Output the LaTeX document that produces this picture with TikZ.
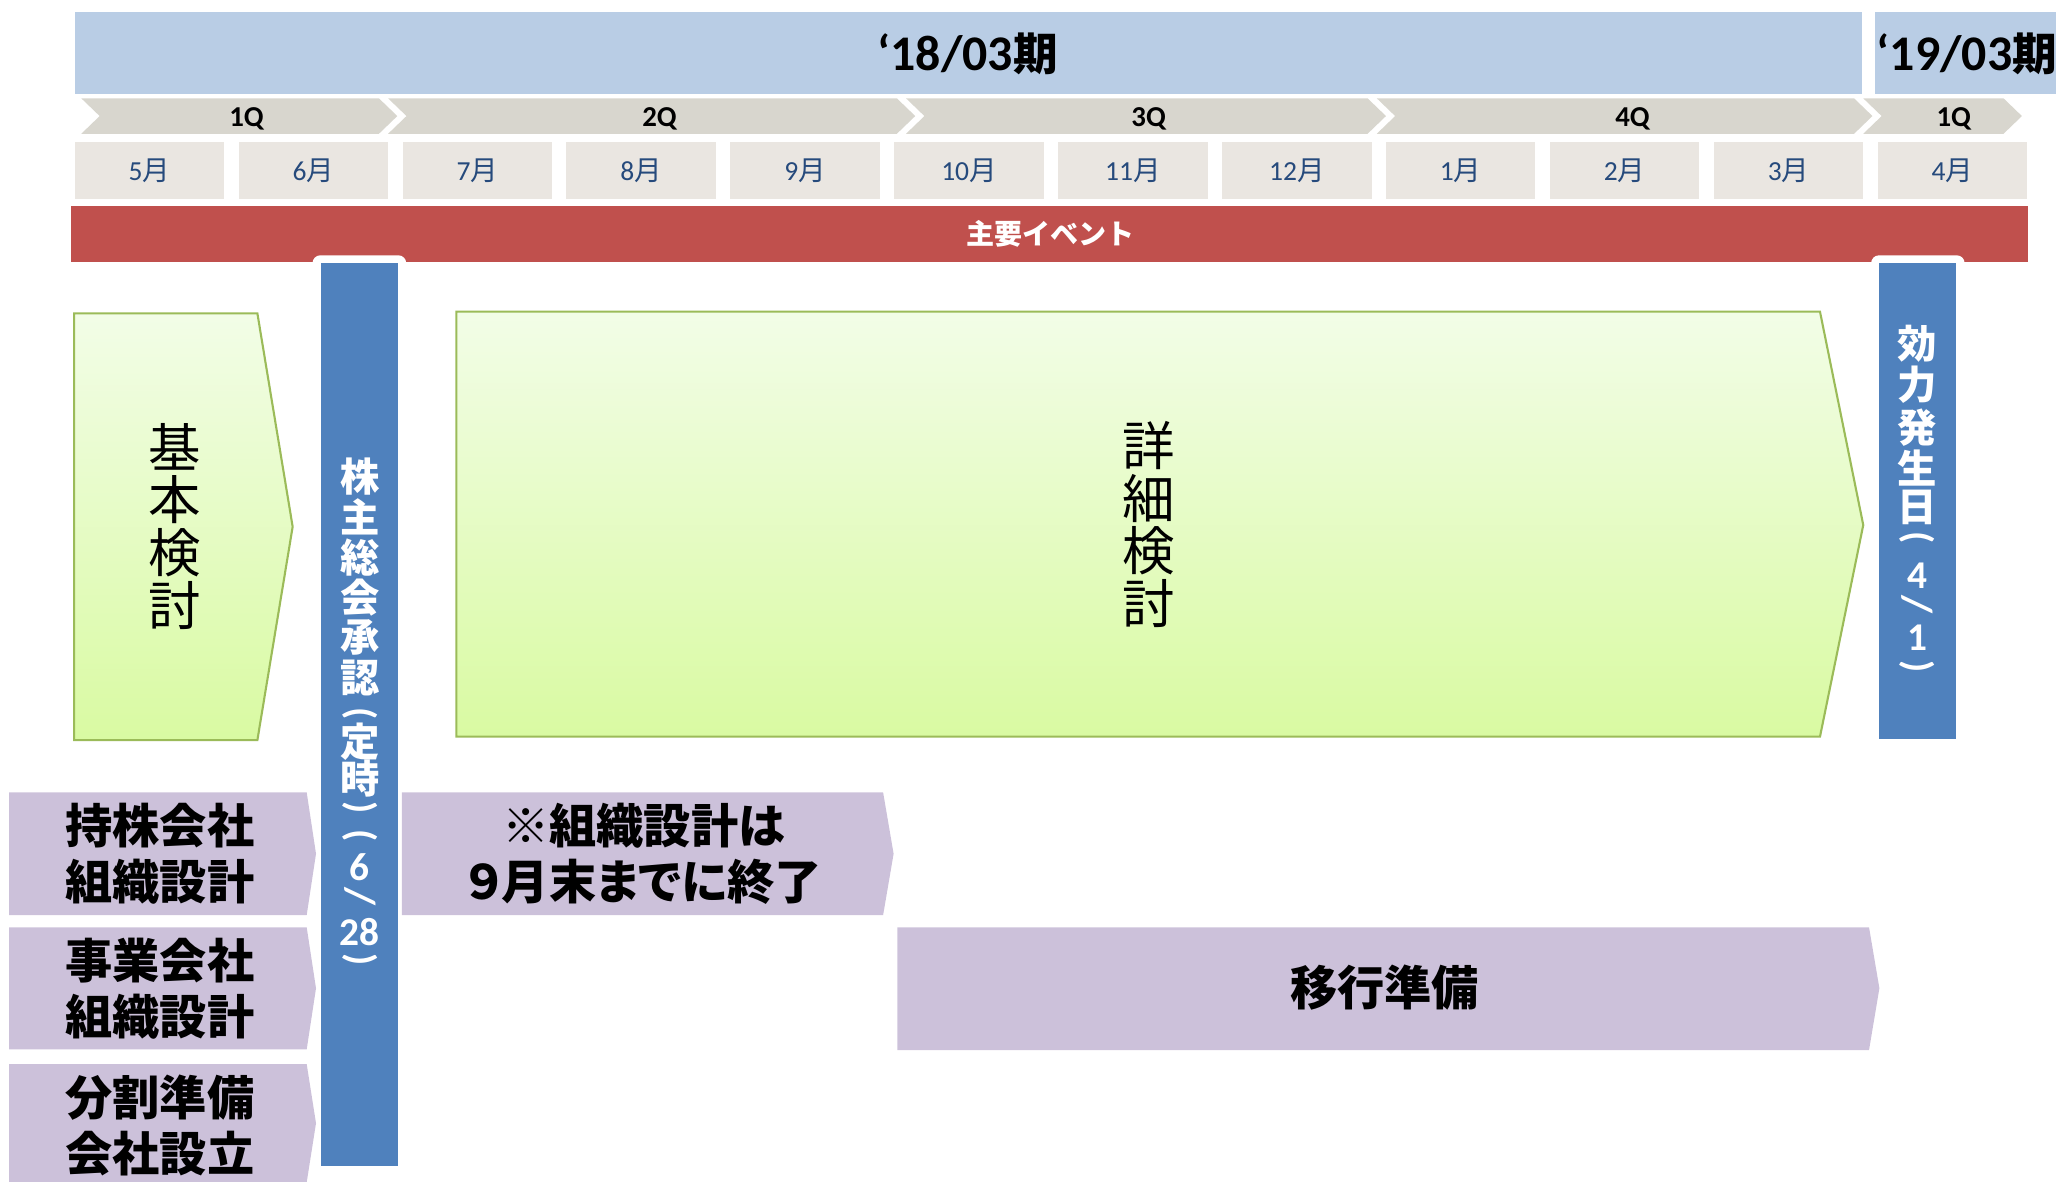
\documentclass[tikz,border=0pt]{standalone}
\usepackage{fontspec}
\setmainfont{Carlito}
\newfontfamily\jp{Noto Sans CJK JP}
\definecolor{bandblue}{RGB}{185,205,229}
\definecolor{chevfill}{RGB}{216,214,206}
\definecolor{monthbg}{RGB}{234,230,225}
\definecolor{monthtx}{RGB}{38,74,124}
\definecolor{evred}{RGB}{192,80,77}
\definecolor{barblue}{RGB}{79,129,189}
\definecolor{gtop}{RGB}{242,253,231}
\definecolor{gbot}{RGB}{217,250,162}
\definecolor{gline}{RGB}{155,187,89}
\definecolor{purp}{RGB}{204,193,218}
\newcommand\qchev[2]{\fill[chevfill] (#1,75) -- ({#2-14},75) -- (#2,88.5) -- ({#2-14},102) -- (#1,102) -- ({#1+14},88.5) -- cycle;}
\begin{document}
\begin{tikzpicture}[x=0.5pt,y=-0.5pt,
  periodtxt/.style={inner sep=0,font=\bfseries\fontsize{19}{22}\selectfont},
  qtxt/.style={inner sep=0,font=\bfseries\fontsize{11}{13}\selectfont},
  monthtxt/.style={inner sep=0,text=monthtx,font=\fontsize{10.5}{12}\selectfont},
  evtxt/.style={inner sep=0,text=white,font=\jp\bfseries\fontsize{10.7}{12}\selectfont},
  vch/.style={inner sep=0,text=white,font=\jp\bfseries\fontsize{15}{15}\selectfont},
  vdig/.style={inner sep=0,text=white,font=\bfseries\fontsize{15}{15}\selectfont},
  vpar/.style={inner sep=0,text=white,rotate=-90,font=\bfseries\fontsize{15}{15}\selectfont},
  vslash/.style={inner sep=0,text=white,rotate=-90,font=\bfseries\fontsize{16}{16}\selectfont},
  greentxt/.style={inner sep=0,align=center,font=\jp\fontsize{20}{20.1}\selectfont},
  purptxt/.style={inner sep=0,align=center,font=\jp\bfseries\fontsize{18}{21.4}\selectfont},
  greenshape/.style={top color=gtop,bottom color=gbot,draw=gline,line width=0.8pt},
]
\useasboundingbox (0,0) rectangle (1568,901.4);
% period bands
\fill[bandblue] (57,9) rectangle (1420,72);
\fill[bandblue] (1429.6,9) rectangle (1570,72);
\node[periodtxt] (p18) at (738,41.3) {‘18/03{\jp\fontsize{17}{20}\selectfont 期}};
\node[periodtxt] (p19) at (1500,41.3) {‘19/03{\jp\fontsize{17}{20}\selectfont 期}};
% quarter chevrons
\qchev{62}{303}
\qchev{296}{698}
\qchev{691}{1057}
\qchev{1050}{1428}
\qchev{1421}{1542}
\node[qtxt] (q1) at (188,90.3) {1Q};
\node[qtxt] (q2) at (503,90.3) {2Q};
\node[qtxt] (q3) at (876,90.3) {3Q};
\node[qtxt] (q4) at (1245,90.3) {4Q};
\node[qtxt] (q5) at (1490,90.3) {1Q};
% months
\foreach \m [count=\i from 0] in {5,6,7,8,9,10,11,12,1,2,3,4}{
  \fill[monthbg] ({57+125*\i},108) rectangle ++(114,44);
  \node[monthtxt] (m\i) at ({114+125*\i},130) {\m{\jp\fontsize{10.5}{12}\selectfont 月}};
}
% event band
\fill[evred] (54.5,157) rectangle (1546.4,200);
\node[evtxt] (ev) at (801,178.5) {主要イベント};
% tabs and blue bars
\fill[white,rounded corners=3] (238.3,206) -- (238.3,194.7) -- (309.8,194.7) -- (309.8,206) -- cycle;
\fill[white,rounded corners=3] (1427,206) -- (1427,194.7) -- (1498.3,194.7) -- (1498.3,206) -- cycle;
\fill[barblue] (245,200.8) rectangle (303.5,889);
\fill[barblue] (1433,200.8) rectangle (1491.5,563.6);
\foreach \c/\yy [count=\k] in {株/363.5,主/394,総/425,会/455.5,承/486,認/517}
  \node[vch] (sa\k) at (274.5,\yy) {\c};
\node[vpar] (sa7) at (274.5,544) {(};
\node[vch] (sa8) at (274.5,566) {定};
\node[vch] (sa9) at (274.5,594) {時};
\node[vpar] (sa10) at (274.5,616) {)};
\node[vpar] (sa11) at (274.5,637) {(};
\node[vdig] (sa12) at (274.5,661) {6};
\node[vslash] (sa13) at (274.5,684) {/};
\node[vdig] (sa14) at (274.5,710.5) {28};
\node[vpar] (sa15) at (274.5,732) {)};
\foreach \c/\yy [count=\k] in {効/262.4,力/293.6,発/325.8,生/357,日/386.6}
  \node[vch] (sb\k) at (1462,\yy) {\c};
\node[vpar] (sb6) at (1462,410) {(};
\node[vdig] (sb7) at (1462,439) {4};
\node[vslash] (sb8) at (1462,461) {/};
\node[vdig] (sb9) at (1462,486) {1};
\node[vpar] (sb10) at (1462,508.4) {)};
% green phases
\shadedraw[greenshape] (56.5,239) -- (196.3,239) -- (223.2,401.7) -- (196.3,564.4) -- (56.5,564.4) -- cycle;
\shadedraw[greenshape] (348,237.7) -- (1388,237.7) -- (1421,400.4) -- (1388,561.8) -- (348,561.8) -- cycle;
\node[greentxt] (kihon) at (133.5,401.3) {基\\本\\検\\討};
\node[greentxt] (shosai) at (876,400) {詳\\細\\検\\討};
% purple tasks
\fill[purp] (6.9,604.3) -- (233.9,604.3) -- (241,651.1) -- (233.9,697.9) -- (6.9,697.9) -- cycle;
\fill[purp] (6.9,707.2) -- (233.9,707.2) -- (241,753.7) -- (233.9,800.3) -- (6.9,800.3) -- cycle;
\fill[purp] (6.9,811.5) -- (233.9,811.5) -- (241,856.6) -- (233.9,901.7) -- (6.9,901.7) -- cycle;
\fill[purp] (306.4,604.3) -- (673.5,604.3) -- (681.5,651.1) -- (673.5,697.9) -- (306.4,697.9) -- cycle;
\fill[purp] (684.4,707.2) -- (1425.4,707.2) -- (1433.3,753.7) -- (1425.4,800.8) -- (684.4,800.8) -- cycle;
\node[purptxt] (t1) at (122,651) {持株会社\\組織設計};
\node[purptxt] (t2) at (122,753.7) {事業会社\\組織設計};
\node[purptxt] (t3) at (122,858.5) {分割準備\\会社設立};
\node[purptxt] (t4) at (491,651) {※組織設計は\\{\addfontfeatures{RawFeature=+palt}９月末までに終了}};
\node[purptxt] (t5) at (1056,753.5) {移行準備};
\end{tikzpicture}
\end{document}
